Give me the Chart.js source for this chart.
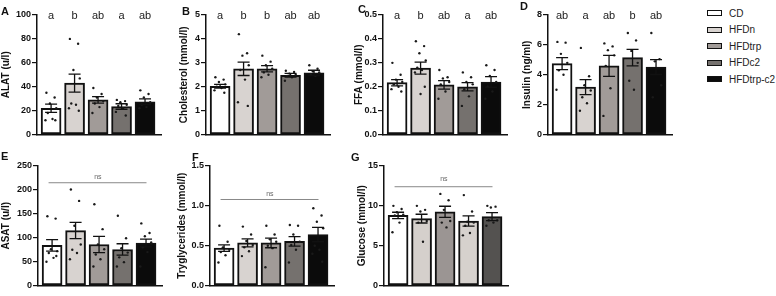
<!DOCTYPE html>
<html lang="en">
<head>
<meta charset="UTF-8">
<title>Plasma parameters per diet group</title>
<style>
    body {
        margin: 0;
        background: #fff;
        font-family: "Liberation Sans", Arial, sans-serif;
    }
    #wrap {
        position: relative;
        width: 776px;
        height: 296px;
        overflow: hidden;
    }
    canvas {
        position: absolute;
    }
    .tag {
        position: absolute;
        font-weight: bold;
        font-size: 11px;
        line-height: 11px;
        color: #111;
    }
    .legend {
        position: absolute;
        left: 707px;
        top: 5px;
        font-size: 10px;
        color: #222;
    }
    .legend div {
        height: 16.5px;
        display: flex;
        align-items: center;
    }
    .legend .box {
        width: 13px;
        height: 4px;
        border: 1.5px solid #111;
        margin-right: 7px;
    }
</style>
<script src="https://cdn.jsdelivr.net/npm/chart.js"></script>
</head>
<body>
<div id="wrap"></div>

<script>
    // groups and colours
    const groups = ['CD', 'HFDn', 'HFDtrp', 'HFDc2', 'HFDtrp-c2'];
    const barColors = ['#ffffff', '#d8d3d0', '#a19b98', '#75716e', '#0b0b0b'];
    const glucoseColors = ['#ffffff', '#d5d0cc', '#9b9593', '#d6d1cd', '#545250'];

    // A - ALAT (u/l)
    const alatMean = [22, 43, 29, 23.5, 27.5];
    const alatSem = [3.5, 7.5, 2.7, 2.3, 2.4];
    const alatDots = [
        [35, 31, 26, 22, 18, 13, 12, 12],
        [80, 76, 54, 47, 26, 25, 22, 20],
        [39, 34, 31, 28, 26, 23, 18],
        [29, 28, 27, 25, 24, 22, 19, 16],
        [37, 34, 31, 27, 25, 23, 22]
    ];
    const alatLetters = ['a', 'b', 'ab', 'a', 'ab'];
    const alatTicks = [0, 20, 40, 60, 80, 100];

    // B - Cholesterol (mmol/l)
    const cholMean = [2.02, 2.75, 2.75, 2.48, 2.58];
    const cholSem = [0.08, 0.28, 0.13, 0.08, 0.11];
    const cholDots = [
        [2.4, 2.3, 2.2, 2.1, 2.0, 1.95, 1.85, 1.75],
        [4.2, 3.4, 3.3, 2.9, 2.7, 2.3, 1.35, 1.2],
        [3.3, 3.05, 2.9, 2.75, 2.6, 2.5, 2.4],
        [2.67, 2.62, 2.55, 2.5, 2.45, 2.4, 2.25],
        [2.9, 2.75, 2.65, 2.6, 2.5, 2.45]
    ];
    const cholLetters = ['a', 'b', 'b', 'ab', 'ab'];
    const cholTicks = [0, 1, 2, 3, 4, 5];

    // C - FFA (mmol/l)
    const ffaMean = [0.217, 0.278, 0.208, 0.2, 0.22];
    const ffaSem = [0.013, 0.025, 0.018, 0.017, 0.022];
    const ffaDots = [
        [0.3, 0.25, 0.23, 0.22, 0.21, 0.2, 0.19, 0.18],
        [0.39, 0.37, 0.34, 0.31, 0.28, 0.27, 0.26, 0.2, 0.17],
        [0.27, 0.24, 0.235, 0.22, 0.21, 0.18, 0.15],
        [0.26, 0.24, 0.22, 0.21, 0.19, 0.16, 0.12],
        [0.29, 0.27, 0.245, 0.22, 0.2, 0.18, 0.15]
    ];
    const ffaLetters = ['a', 'b', 'ab', 'a', 'ab'];
    const ffaTicks = [0, 0.1, 0.2, 0.3, 0.4, 0.5];

    // D - Insulin (ng/ml)
    const insMean = [4.75, 3.18, 4.6, 5.15, 4.52];
    const insSem = [0.4, 0.5, 0.7, 0.55, 0.5];
    const insDots = [
        [6.2, 6.15, 5.4, 4.8, 4.3, 4.0, 3.0],
        [5.8, 3.9, 3.3, 2.95, 2.5, 2.1, 1.6],
        [6.1, 5.9, 5.65, 5.3, 4.6, 3.1, 1.25],
        [6.8, 6.3, 5.6, 4.8, 3.6, 3.0],
        [6.8, 5.05, 4.9, 3.3, 2.5]
    ];
    const insLetters = ['ab', 'a', 'ab', 'b', 'ab'];
    const insTicks = [0, 2, 4, 6, 8];

    // E - ASAT (u/l)
    const asatMean = [84, 115, 86, 75.5, 89];
    const asatSem = [12, 17, 17, 12, 8];
    const asatDots = [
        [145, 140, 76, 72, 68, 58, 50, 62],
        [201, 177, 125, 86, 75, 68, 55],
        [170, 118, 86, 76, 65, 55, 40],
        [146, 99, 78, 69, 59, 49, 40],
        [130, 110, 103, 90, 80, 70, 40]
    ];
    const asatTicks = [0, 50, 100, 150, 200, 250];

    // F - Tryglycerides (mmol/l)
    const tgMean = [0.47, 0.535, 0.535, 0.555, 0.64];
    const tgSem = [0.04, 0.05, 0.06, 0.06, 0.09];
    const tgDots = [
        [0.75, 0.55, 0.48, 0.45, 0.42, 0.38, 0.29],
        [0.74, 0.64, 0.56, 0.51, 0.48, 0.43, 0.37],
        [0.75, 0.64, 0.58, 0.55, 0.5, 0.47, 0.23],
        [0.76, 0.75, 0.64, 0.55, 0.51, 0.45, 0.29],
        [0.97, 0.88, 0.8, 0.72, 0.5, 0.45, 0.4, 0.3]
    ];
    const tgTicks = [0, 0.5, 1.0, 1.5];

    // G - Glucose (mmol/l)
    const gluMean = [8.8, 8.4, 9.25, 8.1, 8.65];
    const gluSem = [0.4, 0.55, 0.7, 0.65, 0.5];
    const gluDots = [
        [10.0, 9.6, 9.2, 8.9, 8.8, 7.9, 6.7],
        [10, 9.5, 9.3, 8.1, 7.9, 5.5],
        [11.5, 10.7, 9.5, 8.1, 7.9, 7.3],
        [11.35, 9.3, 8.0, 7.9, 7.5, 6.6, 6.3],
        [10, 9.9, 9.8, 8.2, 8.2, 7.9, 7.5]
    ];
    const gluTicks = [0, 5, 10, 15];

    // horizontal spread of the single points inside a bar (category units)
    const jitter = [-0.2, 0.15, -0.05, 0.22, -0.14, 0.06, -0.24, 0.18, 0.0];

    const FONT = '"Liberation Sans", Arial, sans-serif';

    // panel placement on the page
    const rowTop = { top: 0, height: 141, padTop: 15, padBottom: 3 };
    const rowBottom = { top: 150, height: 142, padTop: 16, padBottom: 3 };

    const panels = [
        { tag: 'A', tagPos: [1, 6], title: 'ALAT (u/l)', mean: alatMean, sem: alatSem, dots: alatDots,
          letters: alatLetters, ticks: alatTicks, dec: 0, colors: barColors, left: 0, yw: 37, row: rowTop },
        { tag: 'B', tagPos: [182, 6], title: 'Cholesterol (mmol/l)', mean: cholMean, sem: cholSem, dots: cholDots,
          letters: cholLetters, ticks: cholTicks, dec: 0, colors: barColors, left: 178, yw: 28, row: rowTop },
        { tag: 'C', tagPos: [358, 4], title: 'FFA (mmol/l)', mean: ffaMean, sem: ffaSem, dots: ffaDots,
          letters: ffaLetters, ticks: ffaTicks, dec: 1, colors: barColors, left: 353, yw: 30, row: rowTop },
        { tag: 'D', tagPos: [520, 1], title: 'Insulin (ng/ml)', mean: insMean, sem: insSem, dots: insDots,
          letters: insLetters, ticks: insTicks, dec: 0, colors: barColors, left: 521, yw: 27, row: rowTop },
        { tag: 'E', tagPos: [1, 151], title: 'ASAT (u/l)', mean: asatMean, sem: asatSem, dots: asatDots,
          ns: [215, 226], ticks: asatTicks, dec: 0, colors: barColors, left: 0, yw: 38, row: rowBottom },
        { tag: 'F', tagPos: [192, 152], title: 'Tryglycerides (mmol/l)', mean: tgMean, sem: tgSem, dots: tgDots,
          ns: [1.08, 1.15], ticks: tgTicks, dec: 1, colors: barColors, left: 176, yw: 34, row: rowBottom },
        { tag: 'G', tagPos: [351, 152], title: 'Glucose (mmol/l)', mean: gluMean, sem: gluSem, dots: gluDots,
          ns: [12.4, 13.3], ticks: gluTicks, dec: 0, colors: glucoseColors, left: 356, yw: 28, row: rowBottom }
    ];

    const X_MIN = -0.6, X_MAX = 4.68, PLOT_W = 125;

    // error bars, group letters and "ns" lines
    const extrasPlugin = {
        id: 'panelExtras',
        afterDatasetsDraw(chart, args, opts) {
            const { ctx, chartArea } = chart;
            const x = chart.scales.x, y = chart.scales.y;
            ctx.save();
            ctx.strokeStyle = '#111';
            ctx.lineWidth = 1.3;
            opts.mean.forEach((m, i) => {
                const px = x.getPixelForValue(i);
                const yT = y.getPixelForValue(m + opts.sem[i]);
                const yB = y.getPixelForValue(m - opts.sem[i]);
                ctx.beginPath();
                ctx.moveTo(px, yT); ctx.lineTo(px, yB);
                ctx.moveTo(px - 6, yT); ctx.lineTo(px + 6, yT);
                ctx.moveTo(px - 6, yB); ctx.lineTo(px + 6, yB);
                ctx.stroke();
            });

            if (opts.letters) {
                ctx.fillStyle = '#222';
                ctx.font = '11px ' + FONT;
                ctx.textAlign = 'center';
                ctx.textBaseline = 'middle';
                opts.letters.forEach((t, i) => {
                    ctx.fillText(t, x.getPixelForValue(i), chartArea.top + 1);
                });
            }

            if (opts.ns) {
                const ly = y.getPixelForValue(opts.ns[0]);
                ctx.strokeStyle = '#888';
                ctx.lineWidth = 1;
                ctx.beginPath();
                ctx.moveTo(x.getPixelForValue(-0.15), ly);
                ctx.lineTo(x.getPixelForValue(4.02), ly);
                ctx.stroke();
                ctx.fillStyle = '#666';
                ctx.font = '7px ' + FONT;
                ctx.textAlign = 'center';
                ctx.textBaseline = 'middle';
                ctx.fillText('ns', x.getPixelForValue(1.95), y.getPixelForValue(opts.ns[1]));
            }
            ctx.restore();
        }
    };

    const wrap = document.getElementById('wrap');

    function makePanel(p) {
        const w = p.yw + PLOT_W + 3;
        const cv = document.createElement('canvas');
        cv.width = w;
        cv.height = p.row.height;
        cv.style.width = w + 'px';
        cv.style.height = p.row.height + 'px';
        cv.style.left = p.left + 'px';
        cv.style.top = p.row.top + 'px';
        wrap.appendChild(cv);

        const tag = document.createElement('div');
        tag.className = 'tag';
        tag.textContent = p.tag;
        tag.style.left = p.tagPos[0] + 'px';
        tag.style.top = p.tagPos[1] + 'px';
        wrap.appendChild(tag);

        const points = [];
        p.dots.forEach((vals, g) => {
            vals.forEach((v, k) => points.push({ x: g + jitter[k % jitter.length], y: v }));
        });

        new Chart(cv, {
            type: 'bar',
            data: {
                datasets: [
                    {
                        type: 'scatter',
                        data: points,
                        pointRadius: 1.2,
                        pointBackgroundColor: '#1a1a1a',
                        pointBorderWidth: 0,
                        order: 1
                    },
                    {
                        type: 'bar',
                        data: p.mean.map((m, i) => ({ x: i, y: m })),
                        backgroundColor: p.colors,
                        borderColor: '#111',
                        borderWidth: 2,
                        borderSkipped: false,
                        barThickness: 20,
                        order: 2
                    }
                ]
            },
            options: {
                responsive: false,
                animation: false,
                devicePixelRatio: 1,
                layout: { padding: { top: p.row.padTop, bottom: p.row.padBottom, left: 0, right: 3 } },
                plugins: {
                    legend: { display: false },
                    tooltip: { enabled: false },
                    panelExtras: { mean: p.mean, sem: p.sem, letters: p.letters, ns: p.ns }
                },
                scales: {
                    x: {
                        type: 'linear',
                        min: X_MIN,
                        max: X_MAX,
                        offset: false,
                        ticks: { display: false },
                        grid: { display: false, drawTicks: false },
                        border: { display: true, color: '#111', width: 1.5 },
                        afterFit: s => { s.height = 0; }
                    },
                    y: {
                        min: 0,
                        max: p.ticks[p.ticks.length - 1],
                        afterBuildTicks: s => { s.ticks = p.ticks.map(v => ({ value: v })); },
                        ticks: {
                            color: '#111',
                            padding: 1,
                            font: { family: FONT, size: 9, weight: 'bold' },
                            callback: v => Number(v).toFixed(p.dec)
                        },
                        grid: { drawOnChartArea: false, drawTicks: true, tickLength: 5, color: '#111', lineWidth: 1.2 },
                        border: { display: true, color: '#111', width: 1.5 },
                        title: {
                            display: true,
                            text: p.title,
                            color: '#111',
                            font: { family: FONT, size: 10, weight: 'bold' },
                            padding: { top: 0, bottom: 0 }
                        },
                        afterFit: s => { s.width = p.yw; }
                    }
                }
            },
            plugins: [extrasPlugin]
        });
    }

    panels.forEach(makePanel);

    // legend built from the group names and colours
    const legend = document.createElement('div');
    legend.className = 'legend';
    groups.forEach((g, i) => {
        const row = document.createElement('div');
        row.innerHTML = `<span class="box" style="background:${barColors[i]}"></span>${g}`;
        legend.appendChild(row);
    });
    wrap.appendChild(legend);
</script>
</body>
</html>
